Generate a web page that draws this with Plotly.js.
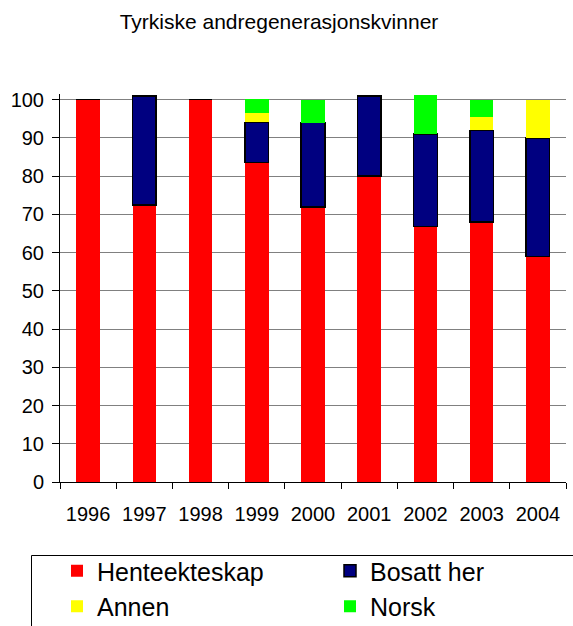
<!DOCTYPE html>
<html><head><meta charset="utf-8">
<script src="https://cdn.plot.ly/plotly-3.0.1.min.js"></script>
<style>body{margin:0;background:#fff}#c{width:573px;height:626px}</style>
</head><body><div id="c"></div>
<script>
const years = ['1996','1997','1998','1999','2000','2001','2002','2003','2004'];
const henteekteskap = [100, 72.5, 100, 83.6, 72, 80, 66.8, 68, 59];
const bosattHer = [0, 28.5, 0, 10.5, 22, 21, 24.2, 24, 31];
const annen = [0, 0, 0, 2.5, 0, 0, 0, 3.6, 10];
const norsk = [0, 0, 0, 3.5, 6, 0, 10.3, 4.4, 0];

const font = {family: 'Liberation Sans, Arial, sans-serif', color: '#000'};
function tr(name, y, color, line, lg) {
  return {type: 'bar', name: name, x: years, y: y, legend: lg,
    marker: {color: color, line: line ? {color: '#000', width: 1.5} : {width: 0}},
    hoverinfo: 'skip'};
}
const data = [
  tr('Henteekteskap', henteekteskap, '#ff0000', false, 'legend'),
  tr('Bosatt her', bosattHer, '#000080', true, 'legend2'),
  tr('Annen', annen, '#ffff00', false, 'legend'),
  tr('Norsk', norsk, '#00ff00', false, 'legend2')
];
const PL = 60, PW = 506, PT = 94, PH = 388;
function leg(xpx) {
  return {orientation: 'v', xref: 'container', yref: 'container',
    x: xpx/573, xanchor: 'left', y: 1 - 548/626, yanchor: 'top',
    traceorder: 'normal', font: Object.assign({size: 25}, font),
    borderwidth: 0, bgcolor: 'rgba(0,0,0,0)', itemwidth: 30, tracegroupgap: 0};
}
const layout = {
  width: 573, height: 626,
  margin: {l: PL, r: 573 - PL - PW, t: PT, b: 626 - PT - PH, autoexpand: false},
  barmode: 'stack', bargap: 0.58,
  paper_bgcolor: '#fff', plot_bgcolor: '#fff',
  font: Object.assign({size: 20}, font),
  title: {text: 'Tyrkiske andregenerasjonskvinner', font: Object.assign({size: 21}, font),
    x: 279/573, xanchor: 'center', y: 1 - 22/626, yanchor: 'middle'},
  xaxis: {type: 'category', tickson: 'boundaries', ticks: 'outside', ticklen: 6,
    tickcolor: '#000', showline: true, linecolor: '#000', linewidth: 1,
    showgrid: false, tickfont: Object.assign({size: 20}, font), ticklabelstandoff: 14},
  yaxis: {range: [0, 101.5], tickvals: [0,10,20,30,40,50,60,70,80,90,100],
    ticks: 'outside', ticklen: 7, tickcolor: '#000', showline: true, linecolor: '#000',
    linewidth: 1, showgrid: true, gridcolor: '#808080', gridwidth: 1, zeroline: false,
    tickfont: Object.assign({size: 20}, font), ticklabelstandoff: 4},
  showlegend: true,
  legend: leg(57),
  legend2: leg(330),
  shapes: [{type: 'rect', xref: 'paper', yref: 'paper',
    x0: (31.5-PL)/PW, x1: (600-PL)/PW, y0: (PT+PH-640)/PH, y1: (PT+PH-555.5)/PH,
    line: {color: '#000', width: 1}, fillcolor: 'rgba(0,0,0,0)'}]
};
Plotly.newPlot('c', data, layout, {staticPlot: true});
</script></body></html>
